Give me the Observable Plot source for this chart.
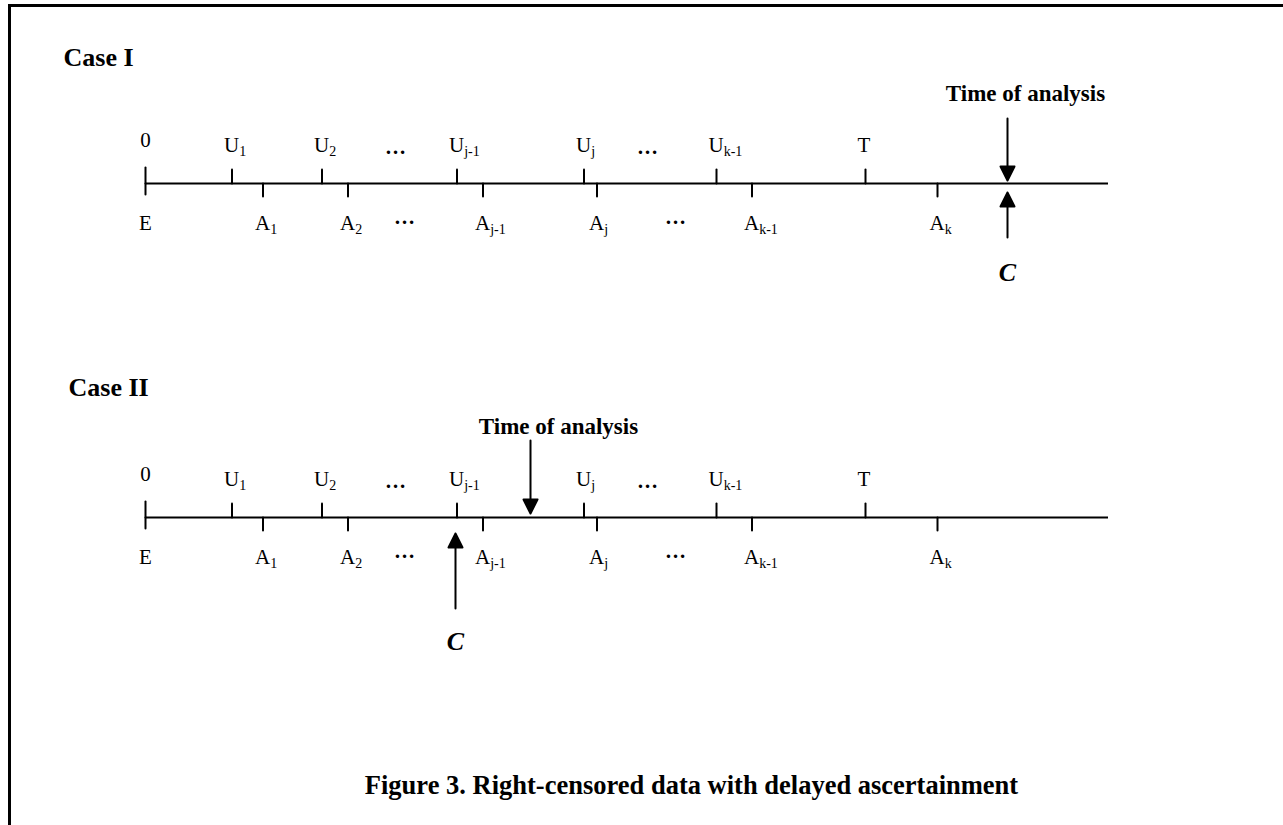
<!DOCTYPE html>
<html>
<head>
<meta charset="utf-8">
<script src="https://cdn.jsdelivr.net/npm/d3@7"></script>
<script src="https://cdn.jsdelivr.net/npm/@observablehq/plot@0.6"></script>
<style>
  html, body { margin: 0; padding: 0; background: #fff; }
  #wrap { position: relative; width: 1283px; height: 825px; overflow: hidden; background: #fff; }
  #chart svg { display: block; }
  #frame { position: absolute; left: 8px; top: 4px; width: 1400px; height: 900px;
           border-left: 3px solid #000; border-top: 3px solid #000; pointer-events: none; }
</style>
</head>
<body>
<div id="wrap"><div id="chart"></div><div id="frame"></div></div>
<script>
// ---- data (schematic time units) ----
const cases = ["Case I", "Case II"];
const originTime = 0;
const axisEndTime = 96.3;
const originLabels = ["0", "E"];
const upperLabels = ["U_1", "U_2", "U_j-1", "U_j", "U_k-1", "T"];
const upperTimes = [8.65, 17.65, 31.15, 43.85, 57.1, 72.0];
const lowerLabels = ["A_1", "A_2", "A_j-1", "A_j", "A_k-1", "A_k"];
const lowerTimes = [11.75, 20.25, 33.75, 45.15, 60.65, 79.2];
const upperEllipsisTimes = [25.0, 50.2];
const lowerEllipsisTimes = [25.9, 53.0];
const analysisTimes = [86.2, 38.5];
const censoringTimes = [86.2, 31.0];
const analysisLabel = "Time of analysis";
const censorLabel = "C";
const caption = "Figure 3. Right-censored data with delayed ascertainment";

// ---- tables built from the arrays ----
const upperRows = cases.flatMap(c => upperTimes.map((t, i) => ({case: c, t, label: upperLabels[i]})));
const lowerRows = cases.flatMap(c => lowerTimes.map((t, i) => ({case: c, t, label: lowerLabels[i]})));
const originRows = cases.map(c => ({case: c, t: originTime}));
const upperDots = cases.flatMap(c => upperEllipsisTimes.map(t => ({case: c, t})));
const lowerDots = cases.flatMap(c => lowerEllipsisTimes.map(t => ({case: c, t})));
const analysisRows = cases.map((c, i) => ({case: c, t: analysisTimes[i]}));
const censorRows = cases.map((c, i) => ({case: c, t: censoringTimes[i]}));

// ---- styles ----
const FONT = "'Liberation Serif', 'Times New Roman', Times, serif";
const caseStyle = {
  "Case I":  {titleDx: 63, titleDy: -118, downLen: 62, downTip: -3, upLen: 45, upTip: 9,  textDx: 18, textDy: -83, cDy: 97},
  "Case II": {titleDx: 68, titleDy: -122, downLen: 73, downTip: -4, upLen: 75, upTip: 16, textDx: 28, textDy: -84, cDy: 132}
};
const stem = {draw(ctx, l) { ctx.moveTo(0, 0); ctx.lineTo(0, -l); }};
const arrowHead = {draw(ctx, l) {
  const h = 14, w = 7;
  ctx.moveTo(0, 0); ctx.lineTo(0, -l + h);
  ctx.moveTo(0, -l); ctx.lineTo(-w, -l + h); ctx.lineTo(w, -l + h); ctx.closePath();
}};

const perCase = cases.flatMap(c => {
  const s = caseStyle[c];
  const only = rows => rows.filter(d => d.case === c);
  return [
    Plot.text([c], {y: d => d, text: d => d, frameAnchor: "left", dx: s.titleDx, dy: s.titleDy,
      textAnchor: "start", lineAnchor: "bottom", fontSize: 26, fontWeight: "bold"}),
    Plot.vector(only(analysisRows), {x: "t", y: "case", length: s.downLen, rotate: 180, anchor: "end",
      shape: arrowHead, stroke: "black", fill: "black", strokeWidth: 2, dy: s.downTip}),
    Plot.text(only(analysisRows), {x: "t", y: "case", text: () => analysisLabel, dx: s.textDx, dy: s.textDy,
      textAnchor: "middle", lineAnchor: "bottom", fontSize: 23, fontWeight: "bold"}),
    Plot.vector(only(censorRows), {x: "t", y: "case", length: s.upLen, rotate: 0, anchor: "end",
      shape: arrowHead, stroke: "black", fill: "black", strokeWidth: 2, dy: s.upTip}),
    Plot.text(only(censorRows), {x: "t", y: "case", text: () => censorLabel, dy: s.cDy,
      textAnchor: "middle", lineAnchor: "bottom", fontSize: 26, fontWeight: "bold", fontStyle: "italic"})
  ];
});

const chart = Plot.plot({
  width: 1283,
  height: 825,
  margin: 0,
  style: {fontFamily: FONT, background: "white", color: "black", overflow: "visible"},
  x: {domain: [originTime, axisEndTime], range: [145, 1108], axis: null},
  y: {type: "point", domain: cases, range: [183, 517], padding: 0, axis: null},
  marks: [
    // time axis line
    Plot.ruleY(cases, {y: d => d, x1: () => originTime, x2: () => axisEndTime, stroke: "black", strokeWidth: 2}),
    // origin tick (both sides)
    Plot.vector(originRows, {x: "t", y: "case", length: 16, anchor: "start", shape: stem, stroke: "black", strokeWidth: 2}),
    Plot.vector(originRows, {x: "t", y: "case", length: 11, rotate: 180, anchor: "start", shape: stem, stroke: "black", strokeWidth: 2}),
    // upper (U) ticks and lower (A) ticks
    Plot.vector(upperRows, {x: "t", y: "case", length: 14, anchor: "start", shape: stem, stroke: "black", strokeWidth: 2}),
    Plot.vector(lowerRows, {x: "t", y: "case", length: 13, rotate: 180, anchor: "start", shape: stem, stroke: "black", strokeWidth: 2}),
    // labels
    Plot.text(originRows, {x: "t", y: "case", text: () => originLabels[0], dy: -37, textAnchor: "middle", lineAnchor: "bottom", fontSize: 21}),
    Plot.text(originRows, {x: "t", y: "case", text: () => originLabels[1], dy: 46, textAnchor: "middle", lineAnchor: "bottom", fontSize: 21}),
    Plot.text(upperRows, {x: "t", y: "case", text: "label", dx: -8, dy: -32, textAnchor: "start", lineAnchor: "bottom", fontSize: 21}),
    Plot.text(lowerRows, {x: "t", y: "case", text: "label", dx: -8, dy: 46, textAnchor: "start", lineAnchor: "bottom", fontSize: 21}),
    Plot.text(upperDots, {x: "t", y: "case", text: () => "\u2026", dy: -30, textAnchor: "middle", lineAnchor: "bottom", fontSize: 21, fontWeight: "bold"}),
    Plot.text(lowerDots, {x: "t", y: "case", text: () => "\u2026", dy: 40, textAnchor: "middle", lineAnchor: "bottom", fontSize: 21, fontWeight: "bold"}),
    ...perCase,
    // caption
    Plot.text([caption], {frameAnchor: "top-left", text: d => d, dx: 691, dy: 793, textAnchor: "middle",
      lineAnchor: "bottom", fontSize: 26.5, fontWeight: "bold"})
  ]
});

// turn "X_sub" labels into base text + subscript tspan
chart.querySelectorAll("text").forEach(t => {
  const s = t.textContent;
  const k = s.indexOf("_");
  if (k < 0) return;
  t.textContent = s.slice(0, k);
  const ts = document.createElementNS("http://www.w3.org/2000/svg", "tspan");
  ts.setAttribute("font-size", "14");
  ts.setAttribute("dy", "4");
  ts.textContent = s.slice(k + 1);
  t.appendChild(ts);
});

document.getElementById("chart").appendChild(chart);
</script>
</body>
</html>
